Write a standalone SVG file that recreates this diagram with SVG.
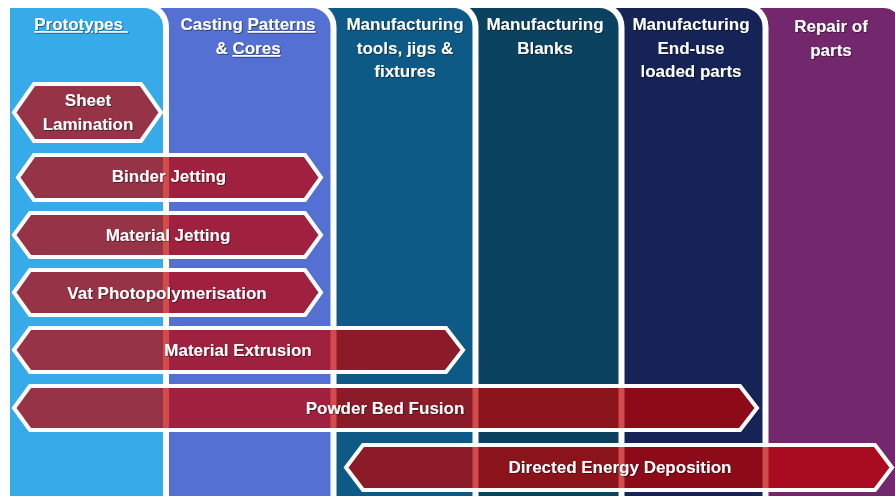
<svg xmlns="http://www.w3.org/2000/svg" width="895" height="496" viewBox="0 0 895 496">
<defs>
<filter id="ts" x="-10%" y="-30%" width="120%" height="160%">
<feDropShadow dx="0.8" dy="0.8" stdDeviation="0.6" flood-color="#000" flood-opacity="0.55"/>
</filter>
</defs>
<style>
.col{stroke:#fff;stroke-width:6}
.bar{fill:#C00000;fill-opacity:0.7;stroke:#fff;stroke-width:4;stroke-linejoin:miter}
.t{font-family:"Liberation Sans",Arial,sans-serif;font-weight:bold;font-size:17px;fill:#fff;text-anchor:middle;filter:url(#ts)}
.u{text-decoration:underline;white-space:pre}
</style>
<rect width="895" height="496" fill="#fff"/>
<g id="columns">
<g id="col-repair"><path class="col" fill="#73276C" d="M740,505 V5 H883 A22,22 0 0 1 905,27 V505 Z"/>
<text class="t" x="831" y="32">Repair of</text><text class="t" x="831" y="56">parts</text></g>
<g id="col-enduse"><path class="col" fill="#152356" d="M600,505 V5 H743.5 A22,22 0 0 1 765.5,27 V505 Z"/>
<text class="t" x="691" y="30">Manufacturing</text><text class="t" x="691" y="54">End-use</text><text class="t" x="691" y="77">loaded parts</text></g>
<g id="col-blanks"><path class="col" fill="#0B4260" d="M450,505 V5 H599.5 A22,22 0 0 1 621.5,27 V505 Z"/>
<text class="t" x="545" y="30">Manufacturing</text><text class="t" x="545" y="54">Blanks</text></g>
<g id="col-tools"><path class="col" fill="#0E5A86" d="M310,505 V5 H453.5 A22,22 0 0 1 475.5,27 V505 Z"/>
<text class="t" x="405" y="30">Manufacturing</text><text class="t" x="405" y="54">tools, jigs &amp;</text><text class="t" x="405" y="77">fixtures</text></g>
<g id="col-casting"><path class="col" fill="#5470D2" d="M140,505 V5 H311.5 A22,22 0 0 1 333.5,27 V505 Z"/>
<text class="t" x="248" y="30">Casting <tspan class="u">Patterns</tspan></text><text class="t" x="248" y="54">&amp; <tspan class="u">Cores</tspan></text></g>
<g id="col-prototypes"><path class="col" fill="#37ABEA" d="M7,505 V5 H144 A22,22 0 0 1 166,27 V505 Z"/>
<text class="t" x="81" y="30"><tspan class="u">Prototypes </tspan></text></g>
</g>
<g id="connectors"></g>
<g id="bar-sheet-lamination"><path class="bar" d="M14,112.5 L34,84 H141 L161,112.5 L141,141 H34 Z"/>
<text class="t" x="88" y="106">Sheet</text><text class="t" x="88" y="130">Lamination</text></g>
<g id="bar-binder-jetting"><path class="bar" d="M18,177.5 L34,155 H305 L321,177.5 L305,200 H34 Z"/>
<text class="t" x="169" y="182">Binder Jetting</text></g>
<g id="bar-material-jetting"><path class="bar" d="M14,235 L30,213 H305 L321,235 L305,257 H30 Z"/>
<text class="t" x="168" y="241">Material Jetting</text></g>
<g id="bar-vat"><path class="bar" d="M14,292.5 L30,270 H305 L321,292.5 L305,315 H30 Z"/>
<text class="t" x="167" y="299">Vat Photopolymerisation</text></g>
<g id="bar-material-extrusion"><path class="bar" d="M14,350 L30,328 H446 L463,350 L446,372 H30 Z"/>
<text class="t" x="238" y="356">Material Extrusion</text></g>
<g id="bar-powder-bed"><path class="bar" d="M14,408 L30,386 H740 L757,408 L740,430 H30 Z"/>
<text class="t" x="385" y="414">Powder Bed Fusion</text></g>
<g id="bar-ded"><path class="bar" d="M346,467.5 L363,445 H875 L892,467.5 L875,490 H363 Z"/>
<text class="t" x="620" y="473">Directed Energy Deposition</text></g>
</svg>
